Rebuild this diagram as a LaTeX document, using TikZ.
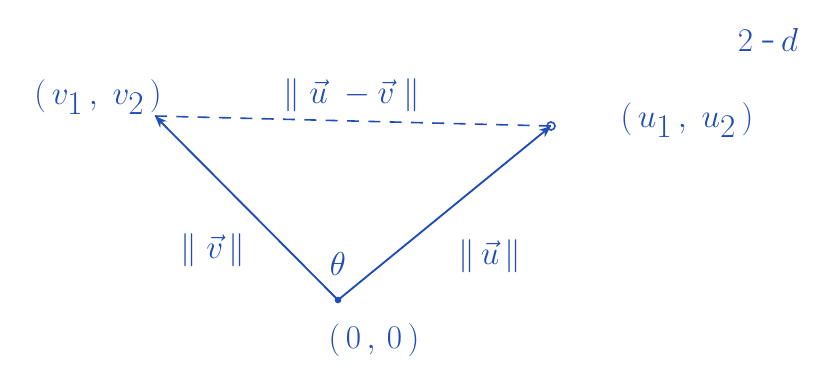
\documentclass[tikz,border=0pt]{standalone}
\usepackage{fontspec}
\usepackage{amsmath}
\usetikzlibrary{arrows.meta}
\definecolor{ink}{RGB}{32,76,182}
\tikzset{
  lbl/.style={text=ink,font=\fontsize{33}{36}\selectfont,inner sep=1pt},
  vec/.style={draw=ink,line width=1.4pt,-{Stealth[length=9pt,width=7pt]}},
  dash line/.style={draw=ink,line width=1.2pt,dash pattern=on 9pt off 7pt}
}
\begin{document}
\begin{tikzpicture}[x=0.75pt,y=-0.75pt]
\useasboundingbox (0,0) rectangle (823,365);
\coordinate (O) at (338,300);
\coordinate (V) at (155,116);
\coordinate (U) at (551,126);
\draw[dash line] (V) -- (U);
\draw[vec] (O) -- (V);
\draw[vec] (O) -- (U);
\fill[ink] (O) circle (2.5pt);
\draw[ink,line width=1.2pt] (U) circle (3pt);
\node[lbl] (vlab) at (98,97) {$(\,v_1\,,\;v_2\,)$};
\node[lbl] (dlab) at (352,95) {$\|\;\vec u\;-\vec v\;\|$};
\node[lbl] (ulab) at (687,120) {$(\,u_1\,,\;u_2\,)$};
\node[lbl] (dim) at (768,40) {$2\;\text{-}\,d$};
\node[lbl] (vn) at (213,250) {$\|\;\vec v\,\|$};
\node[lbl] (th) at (338,264) {$\theta$};
\node[lbl] (un) at (490,256) {$\|\,\vec u\,\|$};
\node[lbl] (olab) at (374,340) {$(\,0\,,\,0\,)$};
\end{tikzpicture}
\end{document}
